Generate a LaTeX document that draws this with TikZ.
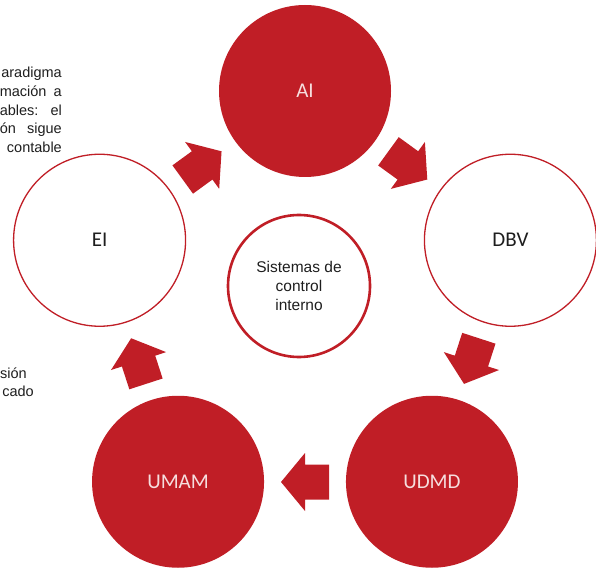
\documentclass[tikz,border=0pt]{standalone}
\usepackage{fontspec}
\setmainfont{Carlito}
\newfontfamily\arialf{Liberation Sans}
\usetikzlibrary{calc}
\definecolor{cred}{RGB}{192,30,38}
\definecolor{ctext}{RGB}{30,30,30}
\definecolor{cpale}{RGB}{246,222,222}

\begin{document}
\begin{tikzpicture}[x=1pt,y=1pt,
  stage/.style={circle, minimum size=172pt, inner sep=0pt, font=\fontsize{21}{25}\selectfont},
  solidstage/.style={stage, fill=cred, text=cpale},
  openstage/.style={stage, draw=cred, line width=1.3pt, fill=white, text=ctext},
  hub/.style={circle, draw=cred, line width=2.6pt, minimum size=142pt, inner sep=0pt,
    align=center, text=ctext, font=\arialf\fontsize{15.5}{19}\selectfont},
  side/.style={font=\arialf\fontsize{14.5}{18}\selectfont, text=ctext, inner sep=0pt, anchor=mid east},
  blockarrow/.pic={\fill[cred] (-24,-17.5) -- (0,-17.5) -- (0,-29) -- (24,0)
                   -- (0,29) -- (0,17.5) -- (-24,17.5) -- cycle;}
]
\useasboundingbox (0,0) rectangle (596,568);
\clip (0,0) rectangle (596,568);

% centre of the cycle
\coordinate (cyc) at (305,261);

% the five stages, clockwise from the top
\node[solidstage] (ai)   at ($(cyc)+(90:216)$)  {AI};
\node[openstage]  (dbv)  at ($(cyc)+(18:216)$)  {DBV};
\node[solidstage] (udmd) at ($(cyc)+(-54:216)$) {UDMD};
\node[solidstage] (umam) at ($(cyc)+(-126:216)$) {UMAM};
\node[openstage]  (ei)   at ($(cyc)+(162:216)$) {EI};

% block arrows between consecutive stages
\pic[rotate=36]   at ($(cyc)+(126:175)$) {blockarrow};
\pic[rotate=-36]  at ($(cyc)+(54:175)$)  {blockarrow};
\pic[rotate=-108] at ($(cyc)+(-18:175)$) {blockarrow};
\pic[rotate=180]  at ($(cyc)+(-90:175)$) {blockarrow};
\pic[rotate=108]  at ($(cyc)+(198:175)$) {blockarrow};

% central hub
\node[hub] (sci) at (299,282) {Sistemas de\\control\\interno};

% running text at the left margin
\node[side] (t1) at (62,493) {aradigma};
\node[side] (t2) at (62,474) {\hbox to 62pt{mación\hfill a}};
\node[side] (t3) at (62,455) {\hbox to 62pt{ables:\hfill el}};
\node[side] (t4) at (62,437) {\hbox to 62pt{ón\hfill sigue}};
\node[side] (t5) at (62,418) {contable};
\node[side] (t6) at (27,192) {sión};
\node[side] (t7) at (34,174) {cado};
\end{tikzpicture}
\end{document}
